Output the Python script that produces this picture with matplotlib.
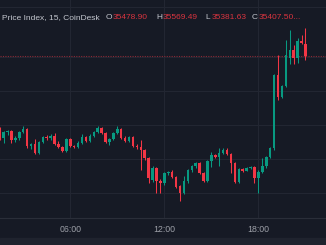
import matplotlib
matplotlib.use("Agg")
import matplotlib.pyplot as plt
from matplotlib.patches import Rectangle

# 15-minute candles, 01:30 -> 21:00
opens = [34971, 34924, 34959, 34965, 34912, 34924, 34959, 34977, 34877, 34888,
         34835, 34900, 34929, 34924, 34935, 34888, 34871, 34847, 34918, 34877,
         34871, 34894, 34929, 34906, 34935, 34959, 34982, 34953, 34900, 34918,
         34953, 34977, 34924, 34906, 34929, 34877, 34871, 34853, 34806, 34677,
         34747, 34671, 34659, 34718, 34724, 34694, 34641, 34600, 34671, 34735,
         34759, 34777, 34718, 34671, 34788, 34824, 34812, 34835, 34853, 34830,
         34777, 34665, 34741, 34730, 34747, 34753, 34688, 34724, 34759, 34812,
         34865, 35294, 35165, 35229, 35394, 35441, 35394, 35494, 35478.90]
highs = [34988, 34965, 34971, 34971, 34935, 34965, 34994, 34980, 34894, 34918,
         34906, 34935, 34941, 34947, 34953, 34906, 34877, 34924, 34924, 34882,
         34906, 34947, 34935, 34947, 34965, 34994, 34988, 34959, 34924, 34959,
         34994, 34982, 34935, 34935, 34935, 34888, 34912, 34859, 34812, 34759,
         34753, 34682, 34724, 34730, 34735, 34700, 34647, 34700, 34741, 34765,
         34782, 34782, 34724, 34794, 34841, 34830, 34865, 34865, 34865, 34835,
         34782, 34747, 34747, 34753, 34759, 34759, 34735, 34806, 34818, 34871,
         35300, 35412, 35235, 35500, 35559, 35470, 35512, 35529, 35569.49]
lows = [34912, 34894, 34941, 34894, 34900, 34912, 34953, 34865, 34859, 34830,
        34830, 34894, 34912, 34912, 34882, 34865, 34841, 34841, 34871, 34865,
        34865, 34888, 34900, 34900, 34929, 34953, 34947, 34894, 34882, 34912,
        34947, 34918, 34900, 34900, 34871, 34859, 34735, 34794, 34659, 34665,
        34600, 34600, 34647, 34706, 34688, 34630, 34553, 34594, 34659, 34724,
        34747, 34712, 34665, 34665, 34753, 34806, 34759, 34830, 34824, 34718,
        34659, 34659, 34724, 34730, 34741, 34659, 34600, 34718, 34747, 34806,
        34853, 35147, 35159, 35223, 35359, 35359, 35365, 35476, 35381.63]
closes = [34924, 34959, 34965, 34912, 34924, 34959, 34977, 34877, 34888, 34835,
          34900, 34929, 34924, 34935, 34888, 34871, 34847, 34918, 34877, 34871,
          34894, 34929, 34906, 34935, 34959, 34982, 34953, 34900, 34918, 34953,
          34977, 34924, 34906, 34929, 34877, 34871, 34853, 34806, 34688, 34747,
          34671, 34659, 34718, 34724, 34694, 34635, 34600, 34671, 34735, 34759,
          34777, 34718, 34671, 34788, 34824, 34812, 34835, 34853, 34830, 34777,
          34665, 34741, 34730, 34747, 34753, 34688, 34724, 34759, 34812, 34865,
          35294, 35165, 35229, 35412, 35441, 35394, 35494, 35482, 35407.50]

tick_pos = [18, 42, 66]
tick_labels = ["06:00", "12:00", "18:00"]
price_grid = [34600, 34800, 35000, 35200, 35400]

legend_name = "Price Index, 15, CoinDesk"
legend_ohlc = ["O35478.90", "H35569.49", "L35381.63", "C35407.50..."]

BG = "#161a25"
GRID = "#222632"
UP = "#089981"
DOWN = "#f23645"
FONT = "Liberation Sans"

fig = plt.figure(figsize=(3.26, 2.45), dpi=100, facecolor=BG)
ax = fig.add_axes([0, 27 / 245, 1, 218 / 245], facecolor=BG)

ax.set_xlim(0.08, 83.24)
ax.set_ylim(34453, 35735)

for p in price_grid:
    ax.axhline(p, color=GRID, lw=0.8, zorder=0)
for t in tick_pos:
    ax.axvline(t, color=GRID, lw=0.8, zorder=0)

for i in range(len(closes)):
    o, h, l, c = opens[i], highs[i], lows[i], closes[i]
    col = UP if c >= o else DOWN
    ax.vlines(i, l, h, color=col, lw=0.75, zorder=2)
    ax.bar(i, max(abs(c - o), 4), bottom=min(o, c), width=0.64,
           color=col, lw=0, zorder=3)

# last price line
ax.axhline(closes[-1], color="#8a2a36", lw=0.8, ls=(0, (1, 1.2)), zorder=1)

ax.set_xticks(tick_pos)
ax.set_xticklabels(tick_labels, fontfamily=FONT)
ax.set_yticks([])
ax.tick_params(axis="x", length=0, pad=5, labelsize=6.3, labelcolor="#9da0a8")
for s in ["top", "left", "right"]:
    ax.spines[s].set_visible(False)
ax.spines["bottom"].set_color("#2a2e39")
ax.spines["bottom"].set_linewidth(0.8)

# pane border near the top and footer strip
fig.add_artist(plt.Line2D([0, 1], [1 - 7 / 245] * 2, color=GRID, lw=0.8))
fig.patches.append(Rectangle((0, 0), 1, 7 / 245, transform=fig.transFigure,
                             color="#1f232e", zorder=0))

ty = 1 - 17.5 / 245
fig.text(2.5 / 326, ty, legend_name, color="#c3c6ce", fontsize=6.0,
         family=FONT, va="center")
xs = [106, 156, 205, 252]
for x, s in zip(xs, legend_ohlc):
    fig.text(x / 326, ty, s[0], color="#c3c6ce", fontsize=6.0,
             family=FONT, va="center")
    fig.text((x + 6.5) / 326, ty, s[1:], color="#d9343f", fontsize=6.0,
             family=FONT, va="center")

fig.savefig("out.png", dpi=100, facecolor=BG)
